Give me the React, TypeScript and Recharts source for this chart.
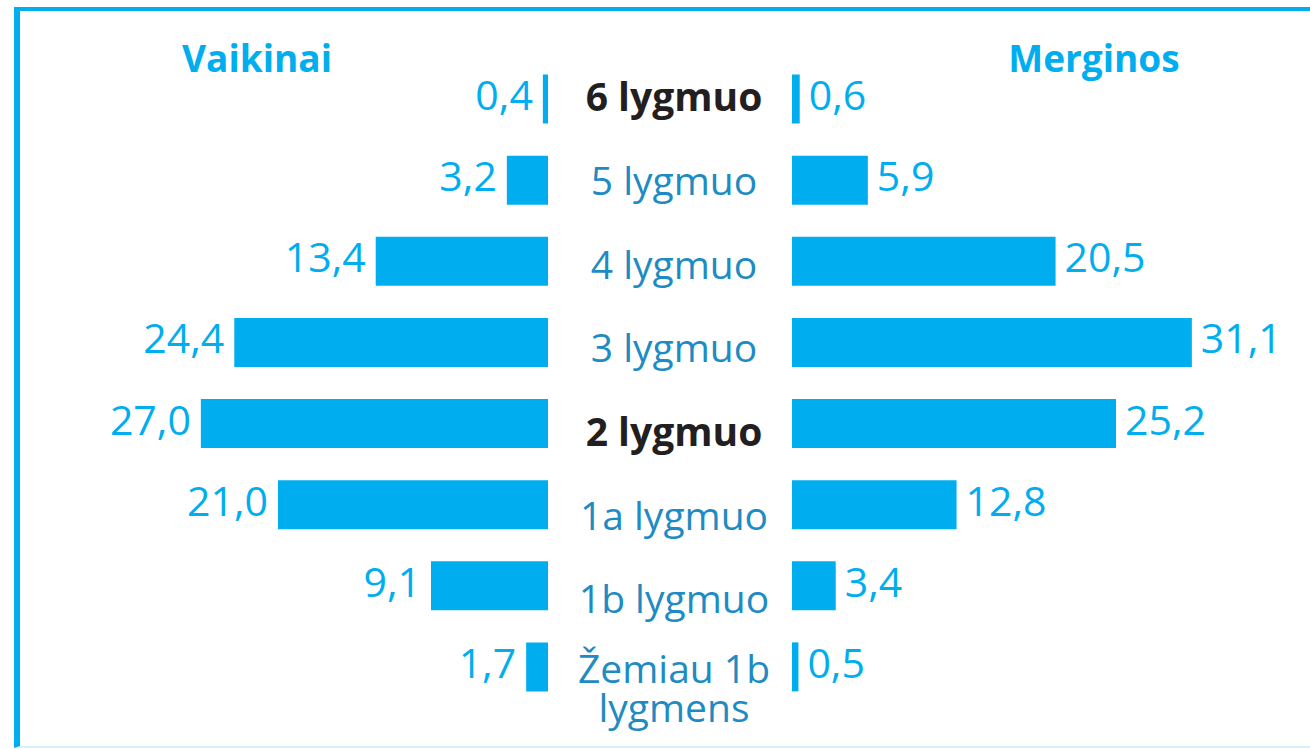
import { BarChart, Bar, XAxis, YAxis, LabelList } from 'recharts';

const levels = [
  '6 lygmuo',
  '5 lygmuo',
  '4 lygmuo',
  '3 lygmuo',
  '2 lygmuo',
  '1a lygmuo',
  '1b lygmuo',
  'Žemiau 1b\nlygmens',
];
const boys = [0.4, 3.2, 13.4, 24.4, 27.0, 21.0, 9.1, 1.7];
const girls = [0.6, 5.9, 20.5, 31.1, 25.2, 12.8, 3.4, 0.5];
const boldLevels = ['6 lygmuo', '2 lygmuo'];

const data = levels.map((level, i) => ({ level, boys: boys[i], girls: girls[i] }));

const BLUE = '#00aeef';
const FONT = "'Open Sans', sans-serif";
const fmt = (v: number) => v.toFixed(1).replace('.', ',');

function LevelTick(props: any) {
  const { x, y, payload, index } = props;
  const value = String(payload.value);
  const lines = value.split('\n');
  const bold = boldLevels.includes(value);
  const cx = x + 126;
  // the centre labels sit a little lower down the column than the bars
  const drift = lines.length > 1 ? 4 : (index ?? 0) * 2.6;
  return (
    <text
      x={cx}
      y={y}
      textAnchor="middle"
      fontSize={39}
      fontFamily={FONT}
      fontWeight={bold ? 700 : 400}
      fill={bold ? '#231f20' : '#1e8bc3'}
    >
      {lines.map((l, i) => (
        <tspan key={i} x={cx} dy={i === 0 ? 12 + drift : 39}>
          {l}
        </tspan>
      ))}
    </text>
  );
}

function ValueLabel(side: 'left' | 'right') {
  return (props: any) => {
    const vb = props.viewBox ?? props;
    const { x, y, width, height } = vb;
    const x0 = Math.min(x, x + width);
    const x1 = Math.max(x, x + width);
    const cy = y + height / 2;
    return (
      <text
        x={side === 'left' ? x0 - 10 : x1 + 9}
        y={cy + 11}
        textAnchor={side === 'left' ? 'end' : 'start'}
        fontSize={41}
        fontFamily={FONT}
        fill={BLUE}
      >
        {fmt(Number(props.value))}
      </text>
    );
  };
}

const headerStyle = {
  position: 'absolute' as const,
  top: 39,
  width: 220,
  textAlign: 'center' as const,
  fontSize: 37,
  lineHeight: '37px',
  fontWeight: 700,
  color: BLUE,
};

export default function App() {
  return (
    <div
      style={{
        position: 'absolute',
        left: 0,
        top: 0,
        width: 1310,
        height: 749,
        overflow: 'hidden',
        background: '#fff',
        fontFamily: FONT,
      }}
    >
      {/* frame */}
      <div
        style={{
          position: 'absolute',
          left: 14,
          top: 7,
          width: 1330,
          height: 741,
          borderLeft: `6px solid ${BLUE}`,
          borderTop: `4px solid ${BLUE}`,
          borderBottom: '2px solid #d6f1fb',
          boxSizing: 'border-box',
        }}
      />
      <div style={{ ...headerStyle, left: 147 }}>Vaikinai</div>
      <div style={{ ...headerStyle, left: 984 }}>Merginos</div>

      <div style={{ position: 'absolute', left: 0, top: 0 }}>
        <BarChart
          width={792}
          height={749}
          data={data}
          layout="vertical"
          margin={{ top: 58.5, right: 0, bottom: 41.5, left: 98 }}
        >
          <XAxis type="number" domain={[0, 35]} reversed hide />
          <YAxis
            type="category"
            dataKey="level"
            orientation="right"
            width={244}
            axisLine={false}
            tickLine={false}
            tickSize={0}
            tickMargin={0}
            interval={0}
            tick={<LevelTick />}
          />
          <Bar dataKey="boys" fill={BLUE} barSize={49} isAnimationActive={false}>
            <LabelList dataKey="boys" content={ValueLabel('left')} />
          </Bar>
        </BarChart>
      </div>

      <div style={{ position: 'absolute', left: 792, top: 0 }}>
        <BarChart
          width={518}
          height={749}
          data={data}
          layout="vertical"
          margin={{ top: 58.5, right: 68, bottom: 41.5, left: 0 }}
        >
          <XAxis type="number" domain={[0, 35]} hide />
          <YAxis type="category" dataKey="level" hide />
          <Bar dataKey="girls" fill={BLUE} barSize={49} isAnimationActive={false}>
            <LabelList dataKey="girls" content={ValueLabel('right')} />
          </Bar>
        </BarChart>
      </div>
    </div>
  );
}
